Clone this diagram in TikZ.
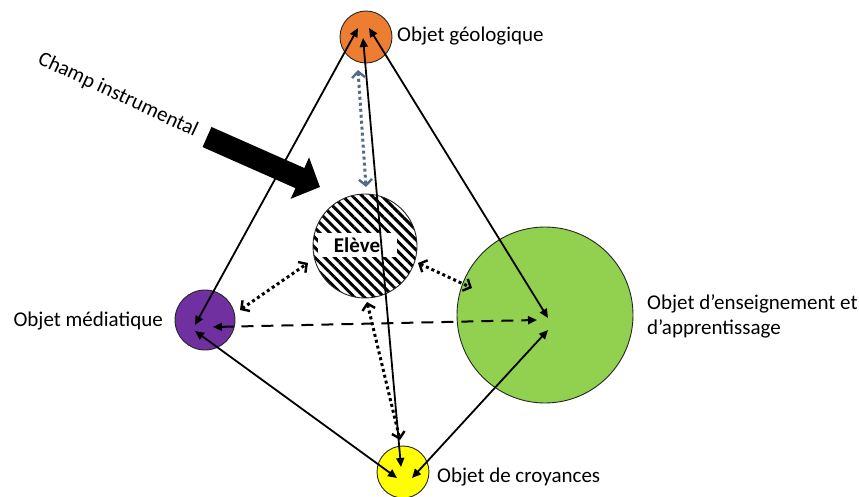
\documentclass[tikz,border=0pt]{standalone}
\usepackage{fontspec}
\setmainfont{Carlito}
\usetikzlibrary{arrows.meta,patterns.meta}
\definecolor{geoorange}{HTML}{ED7D31}
\definecolor{mediapurple}{HTML}{7030A0}
\definecolor{croyyellow}{HTML}{FFFF00}
\definecolor{enseigngreen}{HTML}{92D050}
\definecolor{slateblue}{RGB}{84,106,140}

\begin{document}
\begin{tikzpicture}[x=1pt,y=-1pt,
  objet/.style={circle,draw=black!85,line width=0.9pt,inner sep=0pt},
  etiquette/.style={inner sep=0pt,font=\fontsize{21}{25}\selectfont},
  lien/.style={line width=1.8pt,{Triangle[length=9pt,width=8pt]}-{Triangle[length=9pt,width=8pt]}},
  tirets/.style={line width=2pt,dash pattern=on 12pt off 8pt,{Triangle[length=9pt,width=8pt]}-{Triangle[length=9pt,width=8pt]}},
  pointille/.style={line width=3pt,dash pattern=on 3pt off 3pt,{Straight Barb[length=6pt,width=13pt,line width=2.4pt]}-{Straight Barb[length=6pt,width=13pt,line width=2.4pt]}}]
\useasboundingbox (0,0) rectangle (859,497);

\node[objet,fill=geoorange,minimum size=52pt] (geo) at (366,37) {};
\node[objet,fill=mediapurple,minimum size=60pt] (media) at (205,320) {};
\node[objet,fill=croyyellow,minimum size=52pt] (croy) at (403,472) {};
\node[objet,fill=enseigngreen,minimum size=176pt] (enseign) at (545,315) {};
\node[objet,fill=white,pattern={Lines[angle=-45,distance=7pt,line width=3pt]},minimum size=104pt] (eleve) at (365,246) {};
\node[inner sep=0pt,fill=white,minimum width=79pt,minimum height=24pt,font=\fontsize{21}{25}\selectfont\bfseries] (eleveText) at (357,245) {Elève};

\node[etiquette,anchor=west] (geoText) at (397,36) {Objet géologique};
\node[etiquette,anchor=east] (mediaText) at (163,321) {Objet médiatique};
\node[etiquette,anchor=west] (croyText) at (437,477) {Objet de croyances};
\node[etiquette,anchor=west,align=left] (enseignText) at (647,316) {Objet d’enseignement et\\d’apprentissage};
\node[etiquette,rotate=-25] (champText) at (118,95) {Champ instrumental};

\coordinate (geoL) at (358,28);
\coordinate (geoM) at (363,38);
\coordinate (geoR) at (369,28);
\coordinate (geoS) at (358,70);
\coordinate (mediaT) at (195,325);
\coordinate (mediaB) at (195,331);
\coordinate (mediaD) at (213,327);
\coordinate (mediaE) at (240,310);
\coordinate (croyL) at (397,478);
\coordinate (croyM) at (401,467);
\coordinate (croyR) at (412,478);
\coordinate (croyN) at (400,440);
\coordinate (enseignT) at (548,318);
\coordinate (enseignD) at (537,320);
\coordinate (enseignB) at (548,330);
\coordinate (enseignW) at (472,288);
\coordinate (eleveN) at (366,187);
\coordinate (eleveS) at (367,302);
\coordinate (eleveW) at (308,263);
\coordinate (eleveE) at (418,263);
\coordinate (champA) at (207,137);
\coordinate (champB) at (320,187);

\draw[lien] (geoL) -- (mediaT);
\draw[lien] (geoR) -- (enseignT);
\draw[lien] (geoM) -- (croyM);
\draw[lien] (mediaB) -- (croyL);
\draw[lien] (croyR) -- (enseignB);
\draw[tirets] (mediaD) -- (enseignD);
\draw[pointille,draw=slateblue] (geoS) -- (eleveN);
\draw[pointille] (mediaE) -- (eleveW);
\draw[pointille] (eleveE) -- (enseignW);
\draw[pointille] (eleveS) -- (croyN);
\draw[line width=22pt,-{Triangle[length=22pt,width=44pt]}] (champA) -- (champB);
\end{tikzpicture}
\end{document}
